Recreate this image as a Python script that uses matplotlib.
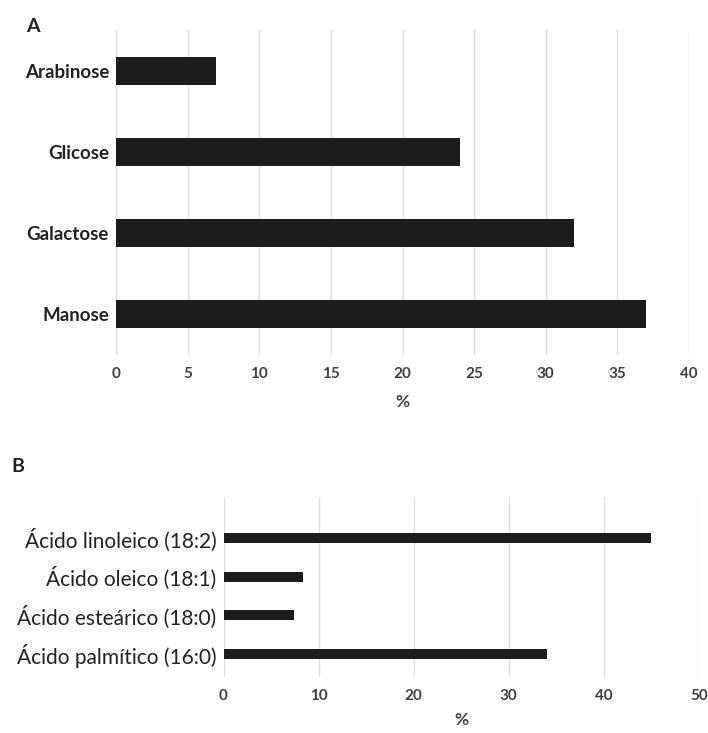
import matplotlib
matplotlib.use("Agg")
import matplotlib.pyplot as plt

plt.rcParams["font.family"] = ["Lato", "DejaVu Sans"]

# panel A: monossacarideos
sugars = ["Manose", "Galactose", "Glicose", "Arabinose"]
sugar_pct = [37, 32, 24, 7]
ticks_a = [0, 5, 10, 15, 20, 25, 30, 35, 40]

# panel B: acidos graxos
acids = ["Ácido palmítico (16:0)", "Ácido esteárico (18:0)",
         "Ácido oleico (18:1)", "Ácido linoleico (18:2)"]
acid_pct = [34, 7.4, 8.4, 45]
ticks_b = [0, 10, 20, 30, 40, 50]

W, H = 708, 733
fig = plt.figure(figsize=(W / 100, H / 100), dpi=100)

bar_col = "#1c1c1c"
grid_col = "#dedede"
tick_col = "#404040"


def style(ax):
    for s in ax.spines.values():
        s.set_visible(False)
    ax.set_axisbelow(True)
    ax.xaxis.grid(True, color=grid_col, lw=1.0)
    ax.tick_params(axis="both", length=0)


# --- A ---
axA = fig.add_axes([116 / W, 1 - 355 / H, (689 - 116) / W, (355 - 30) / H])
axA.barh(range(len(sugars)), sugar_pct, height=0.345, color=bar_col)
axA.set_xlim(0, 40)
axA.set_ylim(-0.5, 3.5)
axA.set_xticks(ticks_a)
axA.set_yticks(range(len(sugars)))
axA.set_yticklabels(sugars, fontsize=13.5, fontweight="bold", color="#222222")
axA.tick_params(axis="y", pad=5)
axA.tick_params(axis="x", pad=9, labelsize=11, labelcolor=tick_col)
for t in axA.get_xticklabels():
    t.set_fontweight("bold")
axA.set_xlabel("%", fontsize=12.5, fontweight="bold", color=tick_col, labelpad=9)
style(axA)
fig.text(33 / W, 1 - 26 / H, "A", fontsize=14, fontweight="bold",
         color="#222222", ha="center", va="center")

# --- B ---
axB = fig.add_axes([223.5 / W, 1 - 677 / H, (699 - 223.5) / W, (677 - 497) / H])
axB.barh(range(len(acids)), acid_pct, height=0.26, color=bar_col)
axB.set_xlim(0, 50)
axB.set_ylim(-0.59, 4.06)
axB.set_xticks(ticks_b)
axB.set_yticks(range(len(acids)))
axB.set_yticklabels(acids, fontsize=15, color="#222222")
axB.tick_params(axis="y", pad=5)
axB.tick_params(axis="x", pad=9, labelsize=11, labelcolor=tick_col)
for t in axB.get_xticklabels():
    t.set_fontweight("bold")
axB.set_xlabel("%", fontsize=12.5, fontweight="bold", color=tick_col, labelpad=6)
style(axB)
fig.text(18 / W, 1 - 467 / H, "B", fontsize=14, fontweight="bold",
         color="#222222", ha="center", va="center")

fig.savefig("out.png", dpi=100)
